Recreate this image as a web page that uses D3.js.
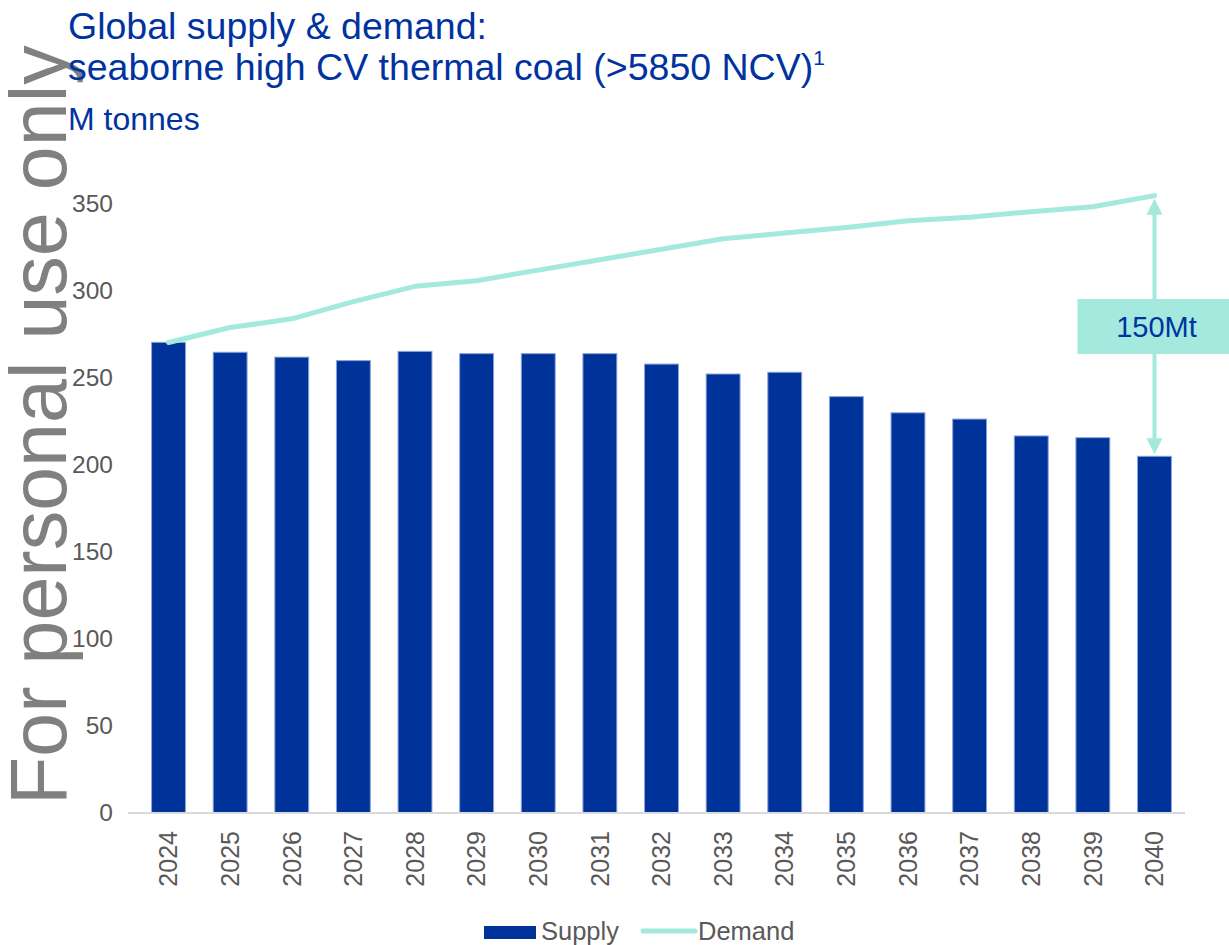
<html>
<head>
  <meta charset="utf-8">
  <title>Global supply & demand: seaborne high CV thermal coal</title>
  <script src="https://cdn.jsdelivr.net/npm/d3@7"></script>
  <style>
    body { margin: 0; background: #fff; }
    text { font-family: "Liberation Sans", Arial, sans-serif; }
  </style>
</head>
<body>
  <script>
    // chart data
    var years = ["2024","2025","2026","2027","2028","2029","2030","2031","2032",
                 "2033","2034","2035","2036","2037","2038","2039","2040"];
    var supply = [270.5, 264.8, 262, 260, 265.3, 264, 264, 264, 258,
                  252.3, 253.3, 239.3, 230, 226.4, 216.7, 215.7, 205];
    var demand = [270.4, 279, 284, 293.9, 302.7, 305.9, 312, 318, 324,
                  330, 333.3, 336.5, 340.4, 342.4, 345.6, 348.4, 354.8];
    var yTicks = [0, 50, 100, 150, 200, 250, 300, 350];
    var gapLabel = "150Mt";

    var w = 1229, h = 945;
    var blue = "#003399", teal = "#a3e9dd", grey = "#595959";
    var svg = d3.select("body").append("svg").attr("width", w).attr("height", h);

    /* watermark goes first so the chart sits on top of it */
    svg.append("text")
      .attr("transform", "translate(66,805) rotate(-90)")
      .attr("font-size", 79).attr("fill", "#808080")
      .text("For personal use only");

    // title block
    var title = svg.append("g").attr("fill", "#0033a0");
    title.append("text").attr("x", 68).attr("y", 39).attr("font-size", 37.5)
      .text("Global supply & demand:");
    var t2 = title.append("text").attr("x", 68).attr("y", 80).attr("font-size", 37.5)
      .text("seaborne high CV thermal coal (>5850 NCV)");
    t2.append("tspan").attr("font-size", 21).attr("dy", -15).text("1");
    title.append("text").attr("x", 68).attr("y", 130).attr("font-size", 32)
      .text("M tonnes");

    var x = d3.scaleBand().domain(years).range([137.7, 1185.3])
      .paddingInner(0.45).paddingOuter(0.225);
    var y = d3.scaleLinear().domain([0, 350]).range([813, 204]);

    // y axis labels only, no line
    var yAxis = svg.append("g").attr("transform", "translate(113,0)")
      .call(d3.axisLeft(y).tickValues(yTicks).tickSize(0).tickPadding(0));
    yAxis.select(".domain").remove();
    yAxis.selectAll("text").attr("font-size", 24.5).attr("fill", grey)
      .attr("font-family", "Liberation Sans, Arial, sans-serif");

    // bars
    svg.append("g").selectAll("rect").data(supply).enter().append("rect")
      .attr("x", function(d, i) { return x(years[i]); })
      .attr("y", function(d) { return y(d); })
      .attr("width", x.bandwidth())
      .attr("height", function(d) { return y(0) - y(d); })
      .attr("fill", blue).attr("stroke", "#8aa3dc").attr("stroke-width", 1);

    // baseline
    svg.append("line").attr("x1", 128).attr("x2", 1185)
      .attr("y1", y(0)).attr("y2", y(0))
      .attr("stroke", "#d9d9d9").attr("stroke-width", 2);

    // x labels, rotated
    var xAxis = svg.append("g").attr("transform", "translate(0," + (y(0) + 18) + ")")
      .call(d3.axisBottom(x).tickSize(0).tickPadding(0));
    xAxis.select(".domain").remove();
    xAxis.selectAll("text").attr("font-size", 25).attr("fill", grey)
      .attr("font-family", "Liberation Sans, Arial, sans-serif")
      .attr("transform", "rotate(-90)")
      .attr("text-anchor", "end").attr("dy", "0.35em").attr("y", 0).attr("x", 0);

    // demand line
    var line = d3.line()
      .x(function(d, i) { return x(years[i]) + x.bandwidth() / 2; })
      .y(function(d) { return y(d); });
    svg.append("path").datum(demand).attr("d", line)
      .attr("fill", "none").attr("stroke", teal).attr("stroke-width", 5)
      .attr("stroke-linecap", "round").attr("stroke-linejoin", "round");

    // gap annotation on the last year
    var last = years.length - 1;
    var ax = x(years[last]) + x.bandwidth() / 2;
    var yTop = y(demand[last]) + 3, yBot = y(supply[last]) - 2;
    var ann = svg.append("g");
    ann.append("line").attr("x1", ax).attr("x2", ax)
      .attr("y1", yTop + 10).attr("y2", yBot - 10)
      .attr("stroke", teal).attr("stroke-width", 4);
    ann.append("path")
      .attr("d", "M" + ax + "," + yTop + "l-8,16h16z").attr("fill", teal);
    ann.append("path")
      .attr("d", "M" + ax + "," + yBot + "l-8,-16h16z").attr("fill", teal);
    var midY = y((demand[last] + supply[last]) / 2);
    ann.append("rect").attr("x", ax - 77).attr("y", midY - 27)
      .attr("width", 154).attr("height", 55).attr("fill", teal);
    ann.append("text").attr("x", ax + 2).attr("y", midY + 11)
      .attr("text-anchor", "middle").attr("font-size", 29).attr("fill", "#0033a0")
      .text(gapLabel);

    // legend
    var leg = svg.append("g").attr("font-size", 25.5).attr("fill", grey);
    leg.append("rect").attr("x", 484).attr("y", 926).attr("width", 52).attr("height", 13)
      .attr("fill", blue);
    leg.append("text").attr("x", 541).attr("y", 940).text("Supply");
    leg.append("line").attr("x1", 643).attr("x2", 695).attr("y1", 931).attr("y2", 931)
      .attr("stroke", teal).attr("stroke-width", 5).attr("stroke-linecap", "round");
    leg.append("text").attr("x", 698).attr("y", 940).text("Demand");
  </script>
</body>
</html>
